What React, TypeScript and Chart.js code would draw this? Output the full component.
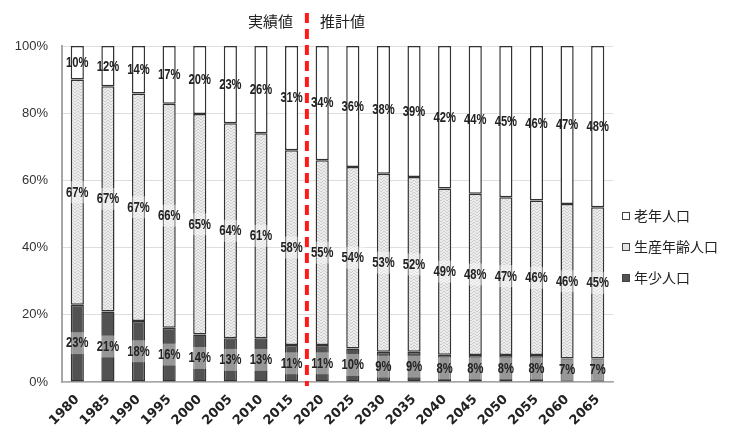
import React, { useEffect, useRef } from "react";
import { Chart, registerables } from "chart.js";
Chart.register(...registerables);

const years = ["1980", "1985", "1990", "1995", "2000", "2005", "2010", "2015", "2020", "2025", "2030", "2035", "2040", "2045", "2050", "2055", "2060", "2065"];
const elderly = [10, 12, 14, 17, 20, 23, 26, 31, 34, 36, 38, 39, 42, 44, 45, 46, 47, 48];
const working = [67, 67, 67, 66, 65, 64, 61, 58, 55, 54, 53, 52, 49, 48, 47, 46, 46, 45];
const young = [23, 21, 18, 16, 14, 13, 13, 11, 11, 10, 9, 9, 8, 8, 8, 8, 7, 7];
const legendLabels = ["老年人口", "生産年齢人口", "年少人口"];
const actualLabel = "実績値";
const projectedLabel = "推計値";
const dividerAfterIndex = 7;

const W = 735;
const H = 427;
const JP = "'Noto Sans CJK JP', 'Noto Sans', sans-serif";
const NUM = "'Liberation Sans', Arial, sans-serif";
const XFONT = "'DejaVu Sans', sans-serif";

function normalized(series: number[]): number[] {
  return series.map((v, i) => (v / (elderly[i] + working[i] + young[i])) * 100);
}

function makePattern(ctx: CanvasRenderingContext2D): CanvasPattern | string {
  const c = document.createElement("canvas");
  c.width = 6;
  c.height = 6;
  const p = c.getContext("2d");
  if (!p) return "#e6e6e6";
  p.fillStyle = "#ececec";
  p.fillRect(0, 0, 6, 6);
  p.strokeStyle = "#cdcdcd";
  p.lineWidth = 1;
  p.beginPath();
  p.moveTo(0, 0);
  p.lineTo(3, 3);
  p.lineTo(6, 0);
  p.moveTo(0, 3);
  p.lineTo(3, 6);
  p.lineTo(6, 3);
  p.stroke();
  return ctx.createPattern(c, "repeat") || "#e6e6e6";
}

export default function App() {
  const ref = useRef<HTMLCanvasElement | null>(null);
  useEffect(() => {
    const canvas = ref.current;
    if (!canvas) return;
    const ctx0 = canvas.getContext("2d");
    if (!ctx0) return;
    const pattern = makePattern(ctx0);
    const raw = [young, working, elderly];
    const fills: (string | CanvasPattern)[] = ["#525252", pattern, "#ffffff"];

    const overlay = {
      id: "overlay",
      afterDatasetsDraw(chart: any) {
        const ctx = chart.ctx as CanvasRenderingContext2D;
        // data labels
        ctx.save();
        ctx.font = `bold 14px ${NUM}`;
        ctx.textAlign = "center";
        ctx.textBaseline = "middle";
        const sx = 0.8;
        chart.data.datasets.forEach((ds: any, di: number) => {
          const meta = chart.getDatasetMeta(di);
          meta.data.forEach((el: any, i: number) => {
            const cy = (el.y + el.base) / 2;
            const txt = raw[di][i] + "%";
            const tw = ctx.measureText(txt).width * sx;
            if (di < 2) {
              ctx.fillStyle = "rgba(255,255,255,0.4)";
              ctx.fillRect(el.x - tw / 2 - 1, cy - 11, tw + 2, 22);
            }
            ctx.save();
            ctx.translate(el.x, cy + 0.5);
            ctx.scale(sx, 1);
            ctx.fillStyle = "#222";
            ctx.fillText(txt, 0, 0);
            ctx.restore();
          });
        });
        ctx.restore();

        // divider
        const xs = chart.scales.x;
        const dx = (xs.getPixelForValue(dividerAfterIndex) + xs.getPixelForValue(dividerAfterIndex + 1)) / 2;
        ctx.save();
        ctx.strokeStyle = "#ff1a1a";
        ctx.lineWidth = 4;
        ctx.setLineDash([10, 6]);
        ctx.beginPath();
        ctx.moveTo(dx, 13);
        ctx.lineTo(dx, 386);
        ctx.stroke();
        ctx.setLineDash([]);
        ctx.font = `15px ${JP}`;
        ctx.fillStyle = "#222";
        ctx.textBaseline = "middle";
        ctx.textAlign = "right";
        ctx.fillText(actualLabel, dx - 14, 21);
        ctx.textAlign = "left";
        ctx.fillText(projectedLabel, dx + 13, 21);
        ctx.restore();

        // legend
        ctx.save();
        const items = [
          { t: legendLabels[0], f: "#ffffff", y: 216 },
          { t: legendLabels[1], f: "#e3e3e3", y: 247 },
          { t: legendLabels[2], f: "#525252", y: 278 },
        ];
        ctx.font = `14px ${JP}`;
        ctx.textBaseline = "middle";
        ctx.textAlign = "left";
        items.forEach((it) => {
          ctx.fillStyle = it.f;
          ctx.fillRect(622, it.y - 4, 8, 8);
          ctx.strokeStyle = "#444";
          ctx.lineWidth = 1;
          ctx.strokeRect(622.5, it.y - 3.5, 7, 7);
          ctx.fillStyle = "#222";
          ctx.fillText(it.t, 634, it.y);
        });
        ctx.restore();
      },
    };

    const chart = new Chart(canvas, {
      type: "bar",
      data: {
        labels: years,
        datasets: [
          { label: legendLabels[2], data: normalized(young), backgroundColor: fills[0] as any },
          { label: legendLabels[1], data: normalized(working), backgroundColor: fills[1] as any },
          { label: legendLabels[0], data: normalized(elderly), backgroundColor: fills[2] as any },
        ].map((d) => ({
          ...d,
          borderColor: "#333333",
          borderWidth: 1.5,
          borderSkipped: false,
          categoryPercentage: 1,
          barPercentage: 0.43,
        })),
      },
      options: {
        responsive: false,
        animation: false,
        layout: { padding: { top: 46, right: 122, bottom: 0, left: 0 } },
        plugins: { legend: { display: false }, tooltip: { enabled: false } },
        scales: {
          x: {
            stacked: true,
            grid: { display: false },
            border: { color: "#a6a6a6", width: 1.5 },
            ticks: {
              minRotation: 45,
              maxRotation: 45,
              color: "#222",
              font: { family: XFONT, size: 13, weight: "bold" },
              padding: 2,
            },
            afterFit(s: any) {
              s.height = 45;
            },
          },
          y: {
            stacked: true,
            min: 0,
            max: 100,
            grid: { color: "#dedede", drawTicks: false },
            border: { color: "#a6a6a6", width: 2 },
            ticks: {
              stepSize: 20,
              padding: 14,
              color: "#333",
              font: { family: NUM, size: 13 },
              callback: (v: any) => v + "%",
            },
            afterFit(s: any) {
              s.width = 62;
            },
          },
        },
      },
      plugins: [overlay],
    });
    return () => chart.destroy();
  }, []);
  return (
    <div style={{ position: "fixed", left: 0, top: 0, width: W, height: H, background: "#fff" }}>
      <canvas ref={ref} width={W} height={H} style={{ width: W, height: H, display: "block" }} />
    </div>
  );
}
